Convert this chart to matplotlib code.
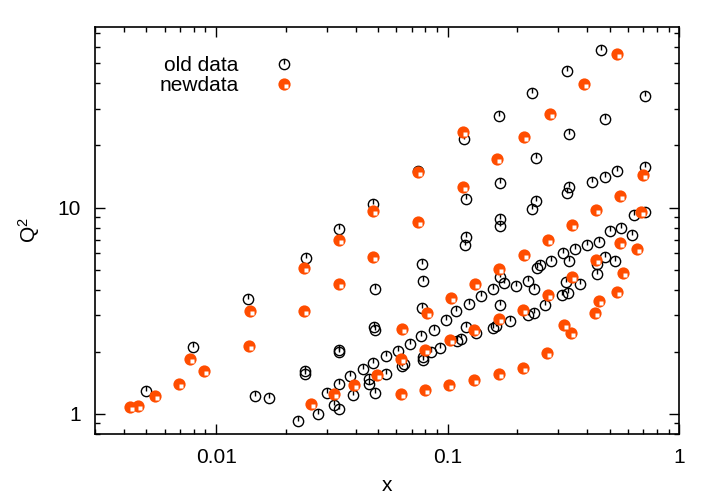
import matplotlib
matplotlib.use('Agg')
import matplotlib.pyplot as plt
from matplotlib.path import Path
from matplotlib.legend_handler import HandlerTuple
from matplotlib.ticker import LogLocator, NullFormatter

plt.rcParams['font.family'] = ['Liberation Sans', 'DejaVu Sans']
plt.rcParams['mathtext.default'] = 'regular'

# old data (black open circles)
old_x = [0.458, 0.328, 0.232, 0.712, 0.1665, 0.478, 0.334, 0.118, 0.240, 0.0746,
         0.712, 0.537, 0.478, 0.422, 0.169, 0.334, 0.328, 0.120, 0.240, 0.232,
         0.0478, 0.636, 0.714, 0.169, 0.168, 0.0341, 0.501, 0.563, 0.626, 0.120,
         0.119, 0.449, 0.400, 0.355, 0.316, 0.2805, 0.334, 0.250, 0.242, 0.477,
         0.527, 0.4435, 0.4435, 0.0245, 0.0774, 0.0784, 0.169, 0.175, 0.197, 0.2215,
         0.236, 0.326, 0.372, 0.331, 0.313, 0.263, 0.157, 0.1395, 0.1235, 0.109,
         0.098, 0.087, 0.0769, 0.0691, 0.0609, 0.0544, 0.0486, 0.0138, 0.0774, 0.168,
         0.236, 0.223, 0.186, 0.162, 0.157, 0.133, 0.1195, 0.114, 0.110, 0.0923,
         0.0846, 0.0781, 0.0786, 0.0649, 0.0636, 0.0544, 0.0482, 0.0486, 0.0340, 0.0341,
         0.0241, 0.0243, 0.0475, 0.0429, 0.0380, 0.0341, 0.0456, 0.0456, 0.0302, 0.0391,
         0.0486, 0.0322, 0.0341, 0.0275, 0.0225, 0.00791, 0.00498, 0.0147, 0.0170]
old_y = [58.1, 46.0, 35.7, 34.7, 27.8, 26.9, 22.7, 21.4, 17.3, 15.0,
         15.8, 15.0, 14.1, 13.3, 13.2, 12.6, 11.7, 10.97, 10.7, 9.86,
         10.4, 9.25, 9.49, 8.82, 8.12, 7.83, 7.68, 8.00, 7.38, 7.18,
         6.60, 6.80, 6.55, 6.31, 6.01, 5.54, 5.54, 5.28, 5.09, 5.77,
         5.50, 5.34, 4.78, 5.67, 5.34, 4.39, 4.60, 4.30, 4.16, 4.39,
         4.02, 4.35, 4.24, 3.85, 3.78, 3.36, 4.04, 3.71, 3.42, 3.14,
         2.84, 2.55, 2.40, 2.19, 2.03, 1.90, 4.01, 3.59, 3.26, 3.36,
         3.08, 3.03, 2.83, 2.66, 2.61, 2.47, 2.64, 2.31, 2.26, 2.09,
         2.00, 1.89, 1.83, 1.74, 1.70, 1.57, 2.64, 2.56, 2.04, 2.00,
         1.61, 1.57, 1.77, 1.65, 1.52, 1.40, 1.47, 1.39, 1.27, 1.24,
         1.27, 1.105, 1.06, 1.00, 0.922, 2.10, 1.29, 1.22, 1.195]

# new data (orange filled circles)
new_x = [0.539, 0.387, 0.278, 0.117, 0.213, 0.164, 0.0746, 0.117, 0.696, 0.553,
         0.439, 0.684, 0.0475, 0.0741, 0.346, 0.271, 0.0339, 0.553, 0.660, 0.213,
         0.0475, 0.439, 0.167, 0.0240, 0.573, 0.345, 0.1316, 0.0339, 0.103, 0.271,
         0.538, 0.4505, 0.0811, 0.2115, 0.4315, 0.0239, 0.01405, 0.166, 0.0635, 0.130,
         0.317, 0.340, 0.102, 0.0798, 0.0139, 0.0629, 0.2685, 0.0493, 0.2108, 0.166,
         0.130, 0.1016, 0.0798, 0.0626, 0.0393, 0.0322, 0.0258, 0.00771, 0.00886, 0.00691,
         0.00546, 0.00426, 0.00458]
new_y = [55.6, 39.8, 28.3, 23.2, 21.9, 17.2, 14.8, 12.6, 14.3, 11.4,
         9.70, 9.56, 9.67, 8.53, 8.25, 6.96, 6.98, 6.75, 6.33, 5.89,
         5.79, 5.60, 5.05, 5.09, 4.82, 4.62, 4.27, 4.25, 3.65, 3.78,
         3.89, 3.51, 3.07, 3.18, 3.09, 3.17, 3.15, 2.87, 2.57, 2.56,
         2.71, 2.46, 2.28, 2.05, 2.14, 1.85, 1.97, 1.54, 1.67, 1.56,
         1.46, 1.38, 1.30, 1.245, 1.38, 1.245, 1.114, 1.85, 1.61, 1.39,
         1.22, 1.086, 1.098]

orange = '#ff4d00'

# gnuplot-like point styles: circle with a stroke to the top, disc with a white notch
tick = Path([(0, 0), (0, 1)], [Path.MOVETO, Path.LINETO])
notch = [(0, 0), (1, 0), (1, -1), (0, -1), (0, 0)]

fig = plt.figure(figsize=(7.09, 4.98), dpi=100)
ax = fig.add_axes([0.134, 0.1285, 0.824, 0.8175])

o1, = ax.plot(old_x, old_y, 'o', ms=7.4, mfc='none', mec='k', mew=1.0, ls='none')
o2, = ax.plot(old_x, old_y, marker=tick, ms=7.4, mfc='none', mec='k', mew=1.0, ls='none')
n1, = ax.plot(new_x, new_y, 'o', ms=8.8, mfc=orange, mec=orange, mew=0, ls='none')
n2, = ax.plot(new_x, new_y, marker=notch, ms=6, mfc='white', mec='none', ls='none')

ax.set_xscale('log')
ax.set_yscale('log')
ax.set_xlim(0.003, 1)
ax.set_ylim(0.8, 75)

ax.set_xticks([0.01, 0.1, 1], ['0.01', '0.1', '1'])
ax.set_yticks([1, 10], ['1', '10'])
ax.xaxis.set_minor_locator(LogLocator(base=10, subs=range(2, 10)))
ax.yaxis.set_minor_locator(LogLocator(base=10, subs=range(2, 10)))
ax.xaxis.set_minor_formatter(NullFormatter())
ax.yaxis.set_minor_formatter(NullFormatter())
ax.tick_params(which='both', direction='in', top=True, right=True, width=1.0, labelsize=15)
ax.tick_params(which='major', length=7)
ax.tick_params(which='minor', length=3.5)
ax.tick_params(axis='x', pad=10)
ax.tick_params(axis='y', pad=10)
for s in ax.spines.values():
    s.set_linewidth(1.2)

ax.set_xlabel('x', fontsize=15)
ax.set_ylabel('Q$^2$', fontsize=15)
ax.xaxis.set_label_coords(0.5, -0.102)
ax.yaxis.set_label_coords(-0.09, 0.5)

ax.legend([(o1, o2), (n1, n2)], ['old data', 'newdata'],
          handler_map={tuple: HandlerTuple(ndivide=1)},
          loc='upper right', bbox_to_anchor=(0.36, 0.928), frameon=False,
          markerfirst=False, numpoints=1, fontsize=15, labelspacing=0.05,
          handlelength=2.0, handletextpad=1.2, borderpad=0, borderaxespad=0)

fig.savefig('out.png', dpi=100)
